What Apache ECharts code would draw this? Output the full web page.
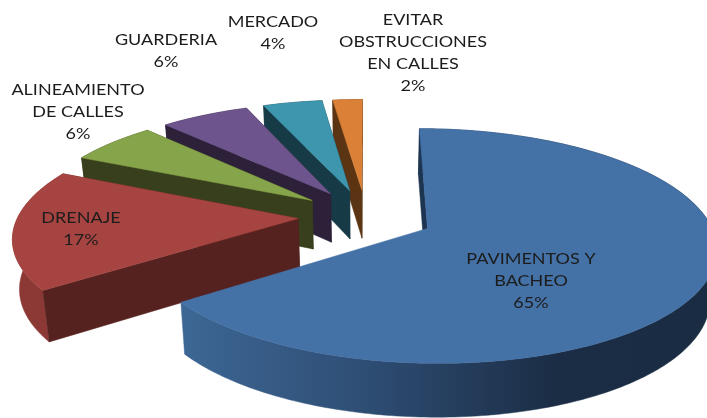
<!DOCTYPE html>
<html><head><meta charset="utf-8">
<style>html,body{margin:0;padding:0;background:#fff}#c{width:707px;height:418px;filter:blur(0.4px)}</style>
<script src="https://cdn.jsdelivr.net/npm/echarts@6/dist/echarts.min.js"></script>
</head><body><div id="c"></div>
<script>
const categories = ['PAVIMENTOS Y\nBACHEO','DRENAJE','ALINEAMIENTO\nDE CALLES','GUARDERIA','MERCADO','EVITAR\nOBSTRUCCIONES\nEN CALLES'];
const values = [65,17,6,6,4,2];
const topColors = ['#4471a6','#a64441','#86a44a','#6e548d','#3d96ae','#da8137'];
const wallColors = ['#1d3550','#56221f','#383f1c','#2c2139','#173a47','#5b3413'];
const labelX = [531,81,78,166,273,413];
const labelY = [281,229,112,51,33,53];

// Perspective model of the tilted, exploded pie
const CX=366, CY=216, RX=280, RY=111, PERSP=0.1476, EXPLODE=0.2425, DEPTH=49, BOTTOM=0.98;
const total = values.reduce((a,b)=>a+b,0);
const rad = d=>d*Math.PI/180;
function project(U,V){const w=1-PERSP*V;return {x:CX+RX*U/w,y:CY+RY*V/w,w};}
function pt(off,th,r){return project(off[0]+r*Math.sin(th),off[1]-r*Math.cos(th));}
const P=p=>[p.x,p.y];
function B(p){const h=DEPTH*(1+0.5*(1/p.w-1));return [CX+(p.x-CX)*BOTTOM,p.y+h];}

function renderItem(params,api){
  const i=params.dataIndex, val=api.value(1);
  let before=0; for(let k=0;k<i;k++) before+=values[k];
  const a0=rad(before/total*360), a1=rad((before+val)/total*360), mid=(a0+a1)/2;
  const off=[EXPLODE*Math.sin(mid),-EXPLODE*Math.cos(mid)];
  const n=Math.max(2,Math.ceil((a1-a0)/rad(1)));
  const arc=[]; for(let k=0;k<=n;k++) arc.push(pt(off,a0+(a1-a0)*k/n,1));
  const apex=pt(off,0,0);
  const z=(values.length-i)*10;
  const poly=(points,fill,l)=>({type:'polygon',z2:z+l,shape:{points},style:{fill,stroke:fill,lineWidth:0.5}});
  let rimFill;
  if(i===0){
    rimFill=new echarts.graphic.LinearGradient(0,0,1,0,[
      {offset:0,color:'#3d6795'},{offset:0.35,color:'#2e4d73'},{offset:0.7,color:'#1b2d45'},{offset:1,color:'#1a2c42'}]);
  } else rimFill=i===1?'#8c3936':wallColors[i];
  const rim=arc.map(P).concat(arc.slice().reverse().map(B));
  const wall=p=>[P(apex),P(p),B(p),B(apex)];
  const kids=[poly(rim,rimFill,0)];
  if(i!==0) kids.push(poly(wall(arc[n]),wallColors[i],1));
  kids.push(poly(wall(arc[0]),wallColors[i],2));
  kids.push(poly([P(apex)].concat(arc.map(P)),topColors[i],3));
  kids.push({type:'text',z2:200,x:labelX[i],y:labelY[i],scaleX:1.2,scaleY:1,style:{
      text:categories[i]+'\n'+val+'%',x:0,y:0,align:'center',verticalAlign:'middle',
      font:'15px Lato',lineHeight:22,fill:'#1c1c1c'}});
  return {type:'group',children:kids};
}
const chart=echarts.init(document.getElementById('c'),null,{renderer:'canvas'});
chart.setOption({animation:false,backgroundColor:'#fff',
  series:[{type:'custom',coordinateSystem:'none',renderItem,silent:true,
    data:categories.map((c,i)=>({name:c,value:[i,values[i]]}))}]});
</script></body></html>
